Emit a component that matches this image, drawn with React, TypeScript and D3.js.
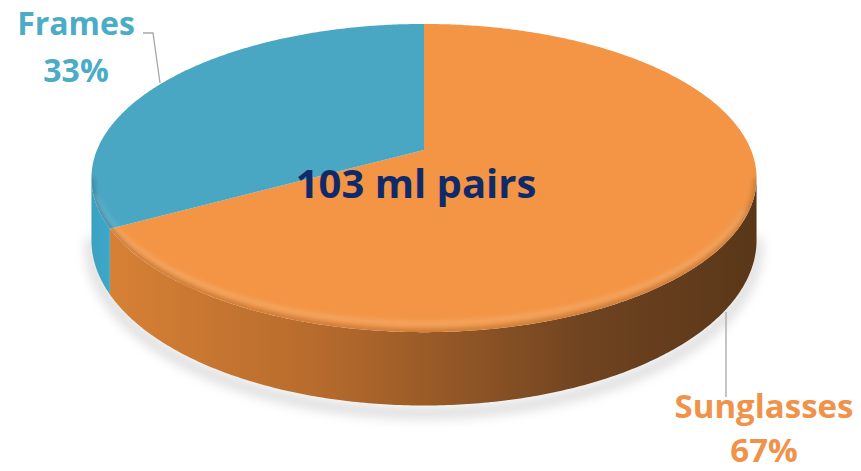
import React from "react";
import * as d3 from "d3";

const categories = ["Sunglasses", "Frames"];
const values = [67, 33];
const labels = ["67%", "33%"];
const centerLabel = "103 ml pairs";

const W = 861;
const H = 471;
// perspective projection of a tilted disc
const cx = 424;
const cy = 150;
const A = 327; // horizontal scale
const B = 149; // vertical scale
const EPS = 0.182; // perspective strength
const THICK = 60;

const topColors: Record<string, string> = { Sunglasses: "#f39545", Frames: "#4aa7c3" };
const labelColors: Record<string, string> = { Sunglasses: "#f0924a", Frames: "#4bacc6" };

function pt(a: number, down = 0): [number, number] {
  const c = Math.cos(a);
  const f = 1 + EPS * c;
  return [cx + (A * Math.sin(a)) / f, cy + (-B * c + down) / f];
}

function arcPoints(a0: number, a1: number, down = 0): [number, number][] {
  const n = Math.max(2, Math.ceil(Math.abs(a1 - a0) / 0.01));
  const out: [number, number][] = [];
  for (let i = 0; i <= n; i++) out.push(pt(a0 + ((a1 - a0) * i) / n, down));
  return out;
}

export default function App() {
  const pie = d3.pie<number>().sort(null).startAngle(0).endAngle(2 * Math.PI);
  const arcs = pie(values);
  const line = d3.line();

  const visLo = Math.acos(-EPS);
  const visHi = 2 * Math.PI - visLo;

  const sides: { d: string; cat: string }[] = [];
  const tops: { d: string; cat: string }[] = [];
  arcs.forEach((a, i) => {
    const cat = categories[i];
    const top = [[cx, cy] as [number, number], ...arcPoints(a.startAngle, a.endAngle)];
    tops.push({ d: line(top)! + "Z", cat });
    const s0 = Math.max(a.startAngle, visLo);
    const s1 = Math.min(a.endAngle, visHi);
    if (s1 > s0) {
      const upper = arcPoints(s0, s1);
      const lower = arcPoints(s1, s0, THICK);
      sides.push({ d: line([...upper, ...lower])! + "Z", cat });
    }
  });

  const outline = line(arcPoints(0, 2 * Math.PI))! + "Z";
  const frontEdge = line(arcPoints(visLo, visHi))!;
  const shadowPts = arcPoints(visLo - 0.05, visHi + 0.05, THICK + 6);

  return (
    <svg width={W} height={H} style={{ position: "absolute", left: 0, top: 0, background: "#fff" }}>
      <defs>
        <linearGradient id="sideOrange" x1={cx - A} x2={cx + A} y1={0} y2={0} gradientUnits="userSpaceOnUse">
          <stop offset="0" stopColor="#d98236" />
          <stop offset="0.35" stopColor="#b56a2c" />
          <stop offset="0.75" stopColor="#6f4320" />
          <stop offset="1" stopColor="#5a3719" />
        </linearGradient>
        <linearGradient id="sideBlue" x1={cx - A - 10} x2={cx - A + 40} y1={0} y2={0} gradientUnits="userSpaceOnUse">
          <stop offset="0" stopColor="#3a9fbf" />
          <stop offset="1" stopColor="#44b3d6" />
        </linearGradient>
        <filter id="blur" x="-20%" y="-50%" width="140%" height="200%">
          <feGaussianBlur stdDeviation="6" />
        </filter>
        <filter id="blur2" x="-10%" y="-10%" width="120%" height="120%">
          <feGaussianBlur stdDeviation="2.5" />
        </filter>
        <clipPath id="topClip">
          <path d={outline} />
        </clipPath>
      </defs>

      {/* shadow */}
      <path d={line(shadowPts)!} fill="none" stroke="#cfcfcf" strokeWidth={10} filter="url(#blur)" opacity={0.8} />

      {sides.map((s, i) => (
        <path key={"s" + i} d={s.d} fill={s.cat === "Sunglasses" ? "url(#sideOrange)" : "url(#sideBlue)"} />
      ))}
      {tops.map((t, i) => (
        <path key={"t" + i} d={t.d} fill={topColors[t.cat]} />
      ))}
      {/* bevel highlight along front edge */}
      <g clipPath="url(#topClip)">
        <path d={frontEdge} fill="none" stroke="#000" strokeOpacity={0.18} strokeWidth={6} filter="url(#blur2)" />
        <path d={line(arcPoints(visLo + 0.25, visHi - 0.15, -7))!} fill="none" stroke="#fff" strokeOpacity={0.25} strokeWidth={3} filter="url(#blur2)" />
      </g>

      <text x={416} y={198} textAnchor="middle" fontFamily="'Open Sans', sans-serif" fontWeight="bold" fontSize={40} fill="#102a69">
        {centerLabel}
      </text>

      {/* leader lines */}
      <polyline points="143,33 153,33 160,83" fill="none" stroke="#a6a6a6" strokeWidth={1.3} />
      <line x1={726} y1={312} x2={726} y2={397} stroke="#a6a6a6" strokeWidth={1.3} />

      <text x={76} y={35} textAnchor="middle" fontFamily="'Open Sans', sans-serif" fontWeight="bold" fontSize={32} fill={labelColors.Frames}>
        {categories[1]}
      </text>
      <text x={76} y={82} textAnchor="middle" fontFamily="'Open Sans', sans-serif" fontWeight="bold" fontSize={32} fill={labelColors.Frames}>
        {labels[1]}
      </text>
      <text x={764} y={418} textAnchor="middle" fontFamily="'Open Sans', sans-serif" fontWeight="bold" fontSize={33} fill={labelColors.Sunglasses}>
        {categories[0]}
      </text>
      <text x={764} y={462} textAnchor="middle" fontFamily="'Open Sans', sans-serif" fontWeight="bold" fontSize={33} fill={labelColors.Sunglasses}>
        {labels[0]}
      </text>
    </svg>
  );
}
